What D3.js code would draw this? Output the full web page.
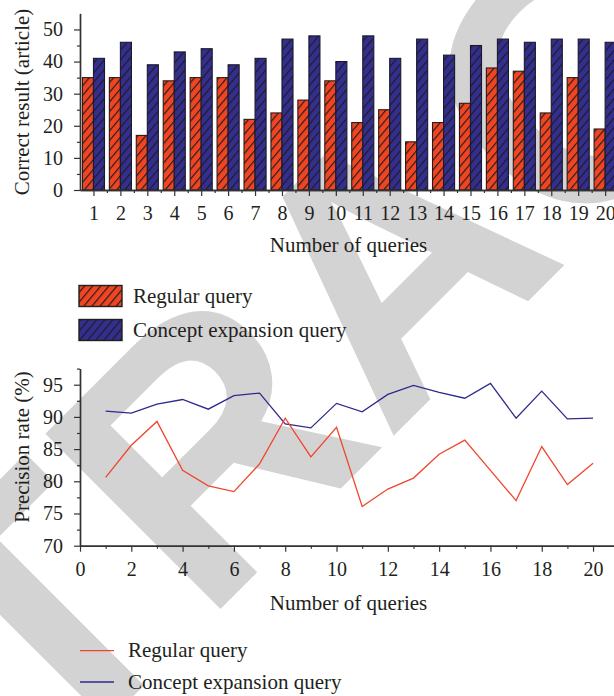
<!DOCTYPE html>
<html>
<head>
<meta charset="utf-8">
<script src="https://cdn.jsdelivr.net/npm/d3@7"></script>
<style>
  html, body { margin: 0; padding: 0; background: #ffffff; }
  svg { display: block; }
</style>
</head>
<body>
<script>
// Query numbers on the x axis of both panels
const queries = [1, 2, 3, 4, 5, 6, 7, 8, 9, 10, 11, 12, 13, 14, 15, 16, 17, 18, 19, 20];

// Panel 1: number of correct results (articles)
const regularCount   = [35, 35, 17, 34, 35, 35, 22, 24, 28, 34, 21, 25, 15, 21, 27, 38, 37, 24, 35, 19];
const expansionCount = [41, 46, 39, 43, 44, 39, 41, 47, 48, 40, 48, 41, 47, 42, 45, 47, 46, 47, 47, 46];

// Panel 2: precision rate (%)
const regularPrecision   = [80.6, 85.6, 89.3, 81.7, 79.3, 78.4, 82.7, 89.8, 83.8, 88.4,
                            76.1, 78.8, 80.5, 84.2, 86.4, 81.7, 77.0, 85.4, 79.5, 82.8];
const expansionPrecision = [90.9, 90.6, 92.0, 92.7, 91.2, 93.3, 93.7, 88.9, 88.3, 92.1,
                            90.8, 93.5, 94.9, 93.8, 92.9, 95.2, 89.8, 94.0, 89.7, 89.8];

// Tick labels
const countTicks      = [0, 10, 20, 30, 40, 50];
const countMinorTicks = [5, 15, 25, 35, 45];
const precisionTicks      = [70, 75, 80, 85, 90, 95];
const precisionMinorTicks = [72.5, 77.5, 82.5, 87.5, 92.5, 97.5];
const precisionXTicks      = [0, 2, 4, 6, 8, 10, 12, 14, 16, 18, 20];
const precisionXMinorTicks = [1, 3, 5, 7, 9, 11, 13, 15, 17, 19];

const seriesNames = ["Regular query", "Concept expansion query"];
const xTitle = "Number of queries";
const countTitle = "Correct result (article)";
const precisionTitle = "Precision rate (%)";

const W = 614, H = 696;
const FONT = "'Liberation Serif', 'Times New Roman', serif";
const TEXT = "#231f20";
const AXIS = "#333333";
const RED = "#f04523", BLUE = "#342e8f";
const RED_LINE = "#f0462d", BLUE_LINE = "#2e2a8c";

const svg = d3.select("body").append("svg")
  .attr("width", W).attr("height", H)
  .attr("viewBox", `0 0 ${W} ${H}`);

svg.append("rect").attr("width", W).attr("height", H).attr("fill", "#fff");

// Faint diagonal stamp lying behind both panels
svg.append("text")
  .attr("transform", "translate(388,259) rotate(-45)")
  .attr("text-anchor", "middle")
  .attr("dy", 129)
  .attr("font-family", "'Liberation Sans', Arial, sans-serif")
  .attr("font-weight", "bold")
  .attr("font-size", 360)
  .attr("fill", "#d3d3d3")
  .text("RETRACTED");

// Hatch fills for the bars: dark "/" strokes over the series colour
const defs = svg.append("defs");
function hatch(id, color) {
  const s = 6.2;
  const p = defs.append("pattern")
    .attr("id", id)
    .attr("patternUnits", "userSpaceOnUse")
    .attr("width", s).attr("height", s)
    .attr("patternTransform", "rotate(40)");
  p.append("rect").attr("width", s).attr("height", s).attr("fill", color);
  p.append("line").attr("x1", 0.6).attr("y1", 0).attr("x2", 0.6).attr("y2", s)
    .attr("stroke", "#1c1c1c").attr("stroke-width", 1.15);
}
hatch("hatch-red", RED);
hatch("hatch-blue", BLUE);

function styleAxis(g) {
  g.select(".domain").attr("stroke", AXIS).attr("stroke-width", 1.4);
  g.selectAll(".tick line").attr("stroke", AXIS).attr("stroke-width", 1.2);
  g.selectAll(".tick text")
    .attr("font-family", FONT).attr("font-size", 20).attr("fill", TEXT);
}

function minorAxis(axis, values) {
  return axis.tickValues(values).tickSize(3).tickSizeOuter(0).tickFormat("");
}

// ---------------- Panel 1: grouped hatched bars ----------------
const xb = d3.scaleLinear().domain([0.5, 20.5]).range([80, 618.6]);
const yb = d3.scaleLinear().domain([0, 55]).range([190, 13.4]);
const step = xb(2) - xb(1);
const barW = step * 0.41;

const p1 = svg.append("g");

const groups = p1.selectAll("g.q").data(queries).join("g").attr("class", "q");
groups.append("rect")
  .attr("x", (d) => xb(d) - barW)
  .attr("y", (d, i) => yb(regularCount[i]))
  .attr("width", barW)
  .attr("height", (d, i) => yb(0) - yb(regularCount[i]))
  .attr("fill", "url(#hatch-red)")
  .attr("stroke", "#2a1a18").attr("stroke-width", 1.1);
groups.append("rect")
  .attr("x", (d) => xb(d))
  .attr("y", (d, i) => yb(expansionCount[i]))
  .attr("width", barW)
  .attr("height", (d, i) => yb(0) - yb(expansionCount[i]))
  .attr("fill", "url(#hatch-blue)")
  .attr("stroke", "#1a1a2a").attr("stroke-width", 1.1);

p1.append("g").attr("transform", `translate(0,${yb(0)})`)
  .call(minorAxis(d3.axisBottom(xb), queries.map((q) => q + 0.5)))
  .call(styleAxis);
p1.append("g").attr("transform", `translate(0,${yb(0)})`)
  .call(d3.axisBottom(xb).tickValues(queries).tickSize(6).tickSizeOuter(0).tickPadding(10))
  .call(styleAxis);
p1.append("g").attr("transform", `translate(${xb(0.5)},0)`)
  .call(minorAxis(d3.axisLeft(yb), countMinorTicks))
  .call(styleAxis);
p1.append("g").attr("transform", `translate(${xb(0.5)},0)`)
  .call(d3.axisLeft(yb).tickValues(countTicks).tickSize(6).tickSizeOuter(0).tickPadding(11))
  .call(styleAxis);

p1.append("text")
  .attr("x", 348.5).attr("y", 252)
  .attr("text-anchor", "middle")
  .attr("font-family", FONT).attr("font-size", 21).attr("fill", TEXT)
  .text(xTitle);
p1.append("text")
  .attr("transform", "translate(29,102) rotate(-90)")
  .attr("text-anchor", "middle")
  .attr("font-family", FONT).attr("font-size", 21).attr("fill", TEXT)
  .text(countTitle);

// Legend for panel 1
const leg1 = svg.append("g");
[["url(#hatch-red)", 285.5], ["url(#hatch-blue)", 319.5]].forEach(([fill, y], i) => {
  leg1.append("rect")
    .attr("x", 79).attr("y", y).attr("width", 43).attr("height", 21)
    .attr("fill", fill).attr("stroke", "#1f1f1f").attr("stroke-width", 1.4);
  leg1.append("text")
    .attr("x", 133).attr("y", y + 17.5)
    .attr("font-family", FONT).attr("font-size", 21).attr("fill", TEXT)
    .text(seriesNames[i]);
});

// ---------------- Panel 2: precision lines ----------------
const xl = d3.scaleLinear().domain([0, 21]).range([80, 618.7]);
const yl = d3.scaleLinear().domain([70, 97.5]).range([545.7, 368.6]);

const p2 = svg.append("g");

const line = d3.line().x((d) => xl(d[0])).y((d) => yl(d[1]));
p2.append("path")
  .datum(queries.map((q, i) => [q, expansionPrecision[i]]))
  .attr("d", line).attr("fill", "none")
  .attr("stroke", BLUE_LINE).attr("stroke-width", 1.3);
p2.append("path")
  .datum(queries.map((q, i) => [q, regularPrecision[i]]))
  .attr("d", line).attr("fill", "none")
  .attr("stroke", RED_LINE).attr("stroke-width", 1.3);

p2.append("g").attr("transform", `translate(0,${yl(70)})`)
  .call(minorAxis(d3.axisBottom(xl), precisionXMinorTicks))
  .call(styleAxis);
p2.append("g").attr("transform", `translate(0,${yl(70)})`)
  .call(d3.axisBottom(xl).tickValues(precisionXTicks).tickSize(6).tickSizeOuter(0).tickPadding(10))
  .call(styleAxis);
p2.append("g").attr("transform", `translate(${xl(0)},0)`)
  .call(minorAxis(d3.axisLeft(yl), precisionMinorTicks))
  .call(styleAxis);
p2.append("g").attr("transform", `translate(${xl(0)},0)`)
  .call(d3.axisLeft(yl).tickValues(precisionTicks).tickSize(6).tickSizeOuter(0).tickPadding(11))
  .call(styleAxis);

p2.append("text")
  .attr("x", 348.5).attr("y", 609.5)
  .attr("text-anchor", "middle")
  .attr("font-family", FONT).attr("font-size", 21).attr("fill", TEXT)
  .text(xTitle);
p2.append("text")
  .attr("transform", "translate(29,447) rotate(-90)")
  .attr("text-anchor", "middle")
  .attr("font-family", FONT).attr("font-size", 21).attr("fill", TEXT)
  .text(precisionTitle);

// Legend for panel 2
const leg2 = svg.append("g");
[[RED_LINE, 650.7], [BLUE_LINE, 682]].forEach(([color, y], i) => {
  leg2.append("line")
    .attr("x1", 80).attr("x2", 114).attr("y1", y).attr("y2", y)
    .attr("stroke", color).attr("stroke-width", 1.3);
  leg2.append("text")
    .attr("x", 128).attr("y", y + 6.5)
    .attr("font-family", FONT).attr("font-size", 21).attr("fill", TEXT)
    .text(seriesNames[i]);
});
</script>
</body>
</html>
